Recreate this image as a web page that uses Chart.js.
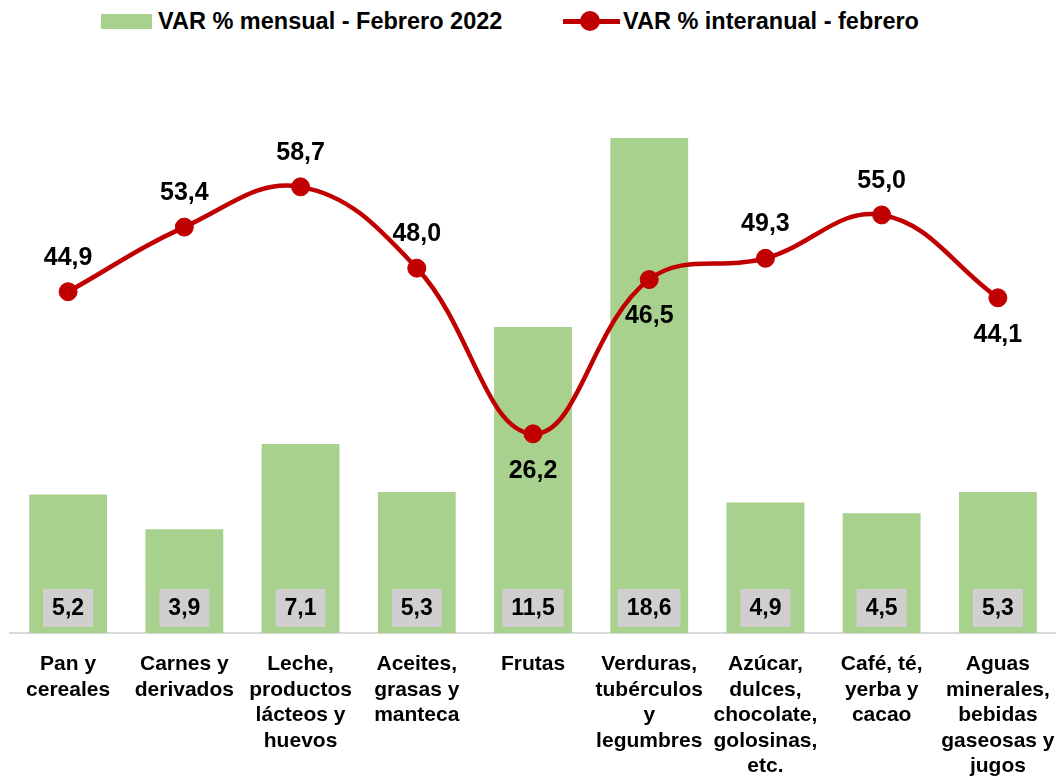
<!DOCTYPE html>
<html lang="es">
<head>
<meta charset="utf-8">
<script src="https://cdn.jsdelivr.net/npm/chart.js@4.4.1/dist/chart.umd.min.js"></script>
<style>
  html, body { margin: 0; padding: 0; background: #fff; }
  #wrap { position: relative; width: 1056px; height: 776px; overflow: hidden; font-family: "Liberation Sans", Arial, sans-serif; }
  #chart { position: absolute; left: 0; top: 0; }
  .lg { position: absolute; font-weight: bold; font-size: 23.5px; color: #000; line-height: 1; white-space: nowrap; }
  .lg-box { position: absolute; left: 101px; top: 14px; width: 51px; height: 15px; background: #A9D18E; }
  .lg-line { position: absolute; left: 563px; top: 19px; width: 57px; height: 5px; background: #C00000; }
  .lg-dot { position: absolute; left: 580px; top: 11px; width: 20px; height: 20px; border-radius: 50%; background: #C00000; }
</style>
</head>
<body>
<div id="wrap">
  <div class="lg-box"></div>
  <div class="lg" style="left:158px; top:10px;">VAR % mensual - Febrero 2022</div>
  <div class="lg-line"></div>
  <div class="lg-dot"></div>
  <div class="lg" style="left:623px; top:10px;">VAR % interanual - febrero</div>
  <canvas id="chart" width="1066" height="798"></canvas>
</div>
<script>
// Datos
const categories = [
  ['Pan y', 'cereales'],
  ['Carnes y', 'derivados'],
  ['Leche,', 'productos', 'lácteos y', 'huevos'],
  ['Aceites,', 'grasas y', 'manteca'],
  ['Frutas'],
  ['Verduras,', 'tubérculos', 'y', 'legumbres'],
  ['Azúcar,', 'dulces,', 'chocolate,', 'golosinas,', 'etc.'],
  ['Café, té,', 'yerba y', 'cacao'],
  ['Aguas', 'minerales,', 'bebidas', 'gaseosas y', 'jugos']
];
const varMensual = [5.2, 3.9, 7.1, 5.3, 11.5, 18.6, 4.9, 4.5, 5.3];
const varInteranual = [44.9, 53.4, 58.7, 48.0, 26.2, 46.5, 49.3, 55.0, 44.1];

const seriesNames = ['VAR % mensual - Febrero 2022', 'VAR % interanual - febrero'];

// Ubicación de etiquetas de la línea (arriba / abajo del punto)
const lineLabelSide = ['up', 'up', 'up', 'up', 'down', 'down', 'up', 'up', 'down'];

const FONT = '"Liberation Sans", Arial, sans-serif';

function fmt(v) {
  return v.toFixed(1).replace('.', ',');
}

// Plugin de etiquetas
const labelsPlugin = {
  id: 'valueLabels',
  afterDatasetsDraw(chart) {
    const ctx = chart.ctx;
    const bottom = chart.chartArea.bottom;

    // Etiquetas de barras (caja gris)
    const barMeta = chart.getDatasetMeta(0);
    ctx.save();
    ctx.font = 'bold 23px ' + FONT;
    ctx.textAlign = 'center';
    ctx.textBaseline = 'middle';
    barMeta.data.forEach((bar, i) => {
      const txt = fmt(varMensual[i]);
      const w = ctx.measureText(txt).width + 18;
      const h = 38;
      const cy = bottom - 25;
      ctx.fillStyle = '#D0CECE';
      ctx.fillRect(bar.x - w / 2, cy - h / 2, w, h);
      ctx.fillStyle = '#000';
      ctx.fillText(txt, bar.x, cy + 1);
    });

    // Etiquetas de línea
    const lineMeta = chart.getDatasetMeta(1);
    ctx.font = 'bold 25px ' + FONT;
    lineMeta.data.forEach((pt, i) => {
      const off = lineLabelSide[i] === 'up' ? -34 : 37;
      ctx.fillStyle = '#000';
      ctx.fillText(fmt(varInteranual[i]), pt.x, pt.y + off);
    });
    ctx.restore();
  }
};

const ctx = document.getElementById('chart').getContext('2d');
new Chart(ctx, {
  type: 'bar',
  data: {
    labels: categories,
    datasets: [
      {
        type: 'bar',
        label: seriesNames[0],
        data: varMensual,
        backgroundColor: '#A9D18E',
        borderWidth: 0,
        categoryPercentage: 1,
        barPercentage: 0.67,
        yAxisID: 'yBar',
        order: 1
      },
      {
        type: 'line',
        label: seriesNames[1],
        data: varInteranual,
        borderColor: '#C00000',
        backgroundColor: '#C00000',
        borderWidth: 4.5,
        pointRadius: 9,
        pointBackgroundColor: '#C00000',
        pointBorderColor: '#C00000',
        pointBorderWidth: 1,
        tension: 0.4,
        fill: false,
        yAxisID: 'yLine',
        order: 0
      }
    ]
  },
  options: {
    responsive: false,
    animation: false,
    events: [],
    layout: { padding: { left: 10, right: 0, top: 60, bottom: 0 } },
    plugins: {
      legend: { display: false },
      tooltip: { enabled: false }
    },
    scales: {
      x: {
        grid: { display: false, drawTicks: false },
        border: { display: true, color: '#D9D9D9', width: 2 },
        ticks: {
          color: '#000',
          padding: 19,
          maxRotation: 0,
          autoSkip: false,
          font: { family: FONT, size: 21, weight: 'bold', lineHeight: 1.21 }
        },
        afterFit(scale) {
          // sin relleno lateral por las etiquetas largas
          scale.paddingLeft = 0;
          scale.paddingRight = 0;
        }
      },
      yBar: {
        display: false,
        min: 0,
        max: 21.53
      },
      yLine: {
        display: false,
        min: 0,
        max: 75.39
      }
    }
  },
  plugins: [labelsPlugin]
});
</script>
</body>
</html>
